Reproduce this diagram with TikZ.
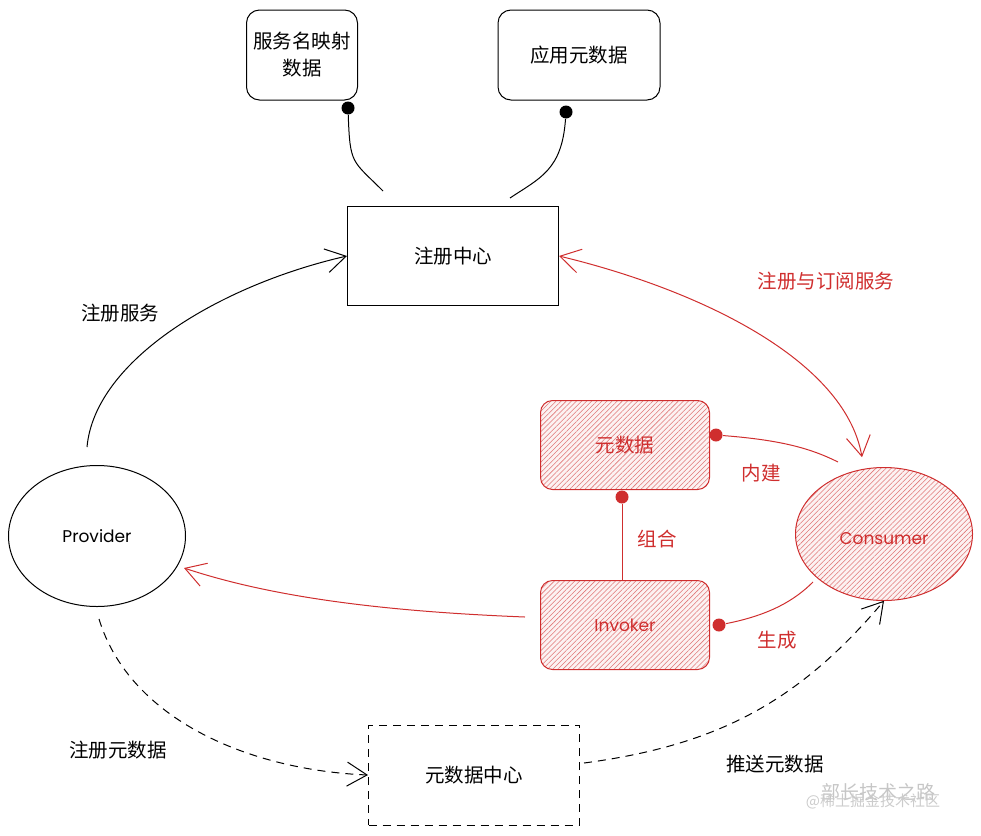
\documentclass[tikz,border=0pt]{standalone}
\usepackage{fontspec}
\setmainfont{Noto Sans CJK SC}
\newfontfamily\hand{Poppins}
\usetikzlibrary{arrows.meta,patterns.meta,shapes.geometric,calc}
\definecolor{rd}{HTML}{CF2E2E}
\begin{document}
\begin{tikzpicture}[x=1pt,y=-1pt,line width=1pt,
  cjk/.style={font=\fontsize{19.5}{27}\selectfont},
  latn/.style={font=\hand\fontsize{17}{20}\selectfont},
  topbox/.style={draw, rounded corners=13pt, align=center, cjk, inner sep=0pt},
  redbox/.style={draw=rd, rounded corners=12pt, minimum width=169pt, minimum height=89pt,
     inner sep=0pt, preaction={fill=rd!6},
     pattern={Lines[angle=45,distance=3.6pt,line width=0.55pt]}, pattern color=rd!65, text=rd},
  ell/.style={draw, ellipse, inner sep=0pt},
  dot/.style={circle, fill, inner sep=0pt, minimum size=13pt},
  lbl/.style={cjk, inner sep=1pt},
  tip/.style={-{Straight Barb[length=20pt,width=24pt,line width=1pt]}},
  dtip/.style={{Straight Barb[length=20pt,width=24pt,line width=1pt]}-{Straight Barb[length=20pt,width=24pt,line width=1pt]}},
  dashline/.style={dash pattern=on 8pt off 6pt}
]
\useasboundingbox (0,0) rectangle (981,835);

% nodes
\node[topbox, minimum width=111pt, minimum height=90pt] (map) at (302,55) {服务名映射\\数据};
\node[topbox, minimum width=162pt, minimum height=90pt] (app) at (579,55) {应用元数据};
\node[draw, cjk, minimum width=211pt, minimum height=99pt, inner sep=0pt] (reg) at (453,256) {注册中心};
\node[ell, minimum width=177pt, minimum height=141pt, latn] (prov) at (97,536) {Provider};
\node[ell, draw=rd, minimum width=177pt, minimum height=133pt, preaction={fill=rd!6},
     pattern={Lines[angle=45,distance=3.6pt,line width=0.55pt]}, pattern color=rd!65,
     text=rd, latn, text height=22pt] (cons) at (884,534) {Consumer};
\node[redbox, cjk] (meta) at (625,445) {元数据};
\node[redbox, latn] (inv) at (625,625) {Invoker};
\node[draw, dashline, cjk, minimum width=211pt, minimum height=100pt, inner sep=0pt] (mc) at (474,775) {元数据中心};

% dots and free-end coordinates
\node[dot] (d1) at (348,108) {};
\node[dot] (d2) at (566,112) {};
\coordinate (e1) at (383,191);
\coordinate (e2) at (510,198);
\node[dot, rd] (d3) at (716,435) {};
\node[dot, rd] (d4) at (622,497) {};
\node[dot, rd] (d5) at (719,625) {};
\coordinate (e3) at (838,462);
\coordinate (e5) at (813,582);
\path (prov.north) ++(-10,-18) coordinate (p1);
\path (prov.south) ++(2,12) coordinate (p2);
\path (mc.east) ++(4,-12) coordinate (m2);
\path (inv.west) ++(-15,-8) coordinate (i1);
\path (cons.north) ++(-22,-10) coordinate (c1);
\path (prov.east) ++(-2,32) coordinate (p3);

% black connectors
\draw (d1) .. controls (350,165) and (352,160) .. (e1);
\draw (d2) .. controls (562,170) and (540,178) .. (e2);
\draw[tip] (p1) .. controls (95,360) and (220,285) .. (reg.west);
\draw[dashline, tip] (p2) .. controls (130,720) and (250,770) .. (mc.west);
\draw[dashline, tip] (m2) .. controls (720,745) and (800,700) .. (cons.south);

% red connectors
\draw[rd, dtip] (reg.east) .. controls (700,290) and (845,360) .. (c1);
\draw[rd] (d3) .. controls (780,440) and (810,448) .. (e3);
\draw[rd] (d4) -- (inv.north -| d4);
\draw[rd] (d5) .. controls (770,615) and (795,600) .. (e5);
\draw[rd, tip] (i1) .. controls (400,612) and (280,600) .. (p3);

% labels
\node[lbl] at (120,313) {注册服务};
\node[lbl, text=rd] at (826,281) {注册与订阅服务};
\node[lbl, text=rd] at (761,473) {内建};
\node[lbl, text=rd] at (657,539) {组合};
\node[lbl, text=rd] at (777,640) {生成};
\node[lbl] at (118,750) {注册元数据};
\node[lbl] at (775,764) {推送元数据};

% watermark
\node[text=gray!45, font=\fontsize{19}{20}\selectfont] at (878,792) {部长技术之路};
\node[text=gray!40, font=\fontsize{15}{16}\selectfont] at (873,801) {@稀土掘金技术社区};
\end{tikzpicture}
\end{document}
